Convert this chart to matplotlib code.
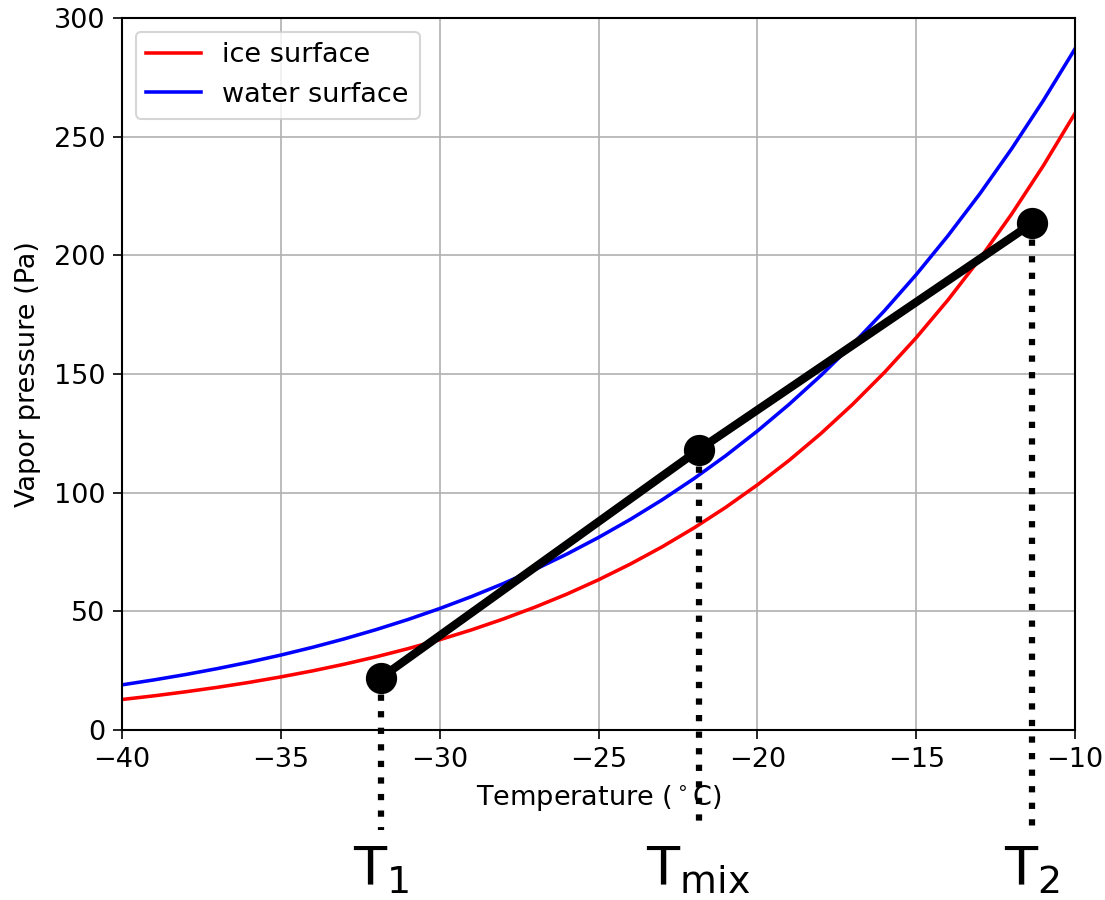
# Vapor pressure over ice vs water, with a mixing line between two air parcels
import matplotlib
matplotlib.use('Agg')
import matplotlib.pyplot as plt

# temperature grid (deg C) and saturation vapor pressures (Pa)
temp = [-40, -39, -38, -37, -36, -35, -34, -33, -32, -31, -30,
        -29, -28, -27, -26, -25, -24, -23, -22, -21, -20,
        -19, -18, -17, -16, -15, -14, -13, -12, -11, -10]
e_ice = [12.85, 14.38, 16.09, 17.97, 20.05, 22.37, 24.91, 27.73, 30.84, 34.26, 38.03,
         42.18, 46.75, 51.76, 57.24, 63.29, 69.91, 77.16, 85.10, 93.78, 103.27,
         113.62, 124.91, 137.24, 150.66, 165.29, 181.20, 198.51, 217.31, 237.73, 259.88]
e_water = [19.02, 21.09, 23.36, 25.86, 28.58, 31.57, 34.84, 38.40, 42.30, 46.54, 51.17,
           56.21, 61.68, 67.63, 74.10, 81.12, 88.72, 96.96, 105.88, 115.53, 125.97,
           137.23, 149.38, 162.51, 176.64, 191.87, 208.27, 225.88, 244.82, 265.19, 287.04]

# the two parcels and their mixture
mix_temp = [-31.85, -21.85, -11.35]
mix_e = [22.0, 118.0, 213.5]
mix_labels = [r'$\mathregular{T_1}$', r'$\mathregular{T_{mix}}$', r'$\mathregular{T_2}$']

plt.rcParams['font.size'] = 13
plt.rcParams['xtick.major.size'] = 4.5
plt.rcParams['ytick.major.size'] = 4.5
plt.rcParams['axes.linewidth'] = 1.0

fig = plt.figure(figsize=(1105 / 150, 900 / 150), dpi=150)
ax = fig.add_axes([0.1104, 0.1889, 0.8625, 0.7911])

ax.plot(temp, e_ice, color='red', linewidth=1.7, label='ice surface')
ax.plot(temp, e_water, color='blue', linewidth=1.7, label='water surface')
ax.plot(mix_temp, mix_e, color='black', linewidth=4, marker='o', markersize=14, zorder=5)

for t, e, lab in zip(mix_temp, mix_e, mix_labels):
    ax.plot([t, t], [e, -42], color='black', linestyle=':', linewidth=3,
            clip_on=False, zorder=6)
    ax.text(t, -48, lab, fontsize=26, ha='center', va='top')

ax.set_xlim(-40, -10)
ax.set_ylim(0, 300)
ax.set_xlabel(r'Temperature ($^\circ$C)', labelpad=5)
ax.set_ylabel('Vapor pressure (Pa)', labelpad=6)
ax.grid(True)
ax.legend(loc='upper left')

fig.savefig('out.png', dpi=150)
